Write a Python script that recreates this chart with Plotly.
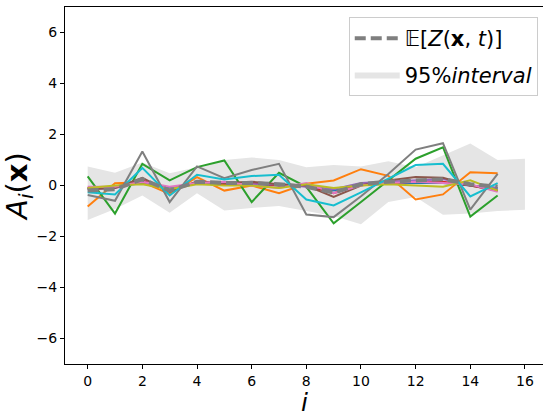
import plotly.graph_objects as go

steps = list(range(16))
band_x = list(range(17))

band_upper = [0.75, 0.5, 0.9, 0.48, 0.72, 1.0, 1.1, 1.0, 0.72, 0.8, 0.75, 0.95, 0.72, 1.2, 1.65, 1.0, 1.05]
band_lower = [-1.35, -0.92, -0.39, -1.07, -0.3, -0.98, -0.88, -0.8, -1.0, -1.2, -1.52, -0.65, -0.45, -1.15, -1.1, -1.0, -0.95]

s_blue = [-0.1, -0.05, 0.1, -0.1, 0.1, 0.05, 0.05, 0.0, 0.0, -0.2, 0.05, 0.1, 0.1, 0.1, 0.0, -0.1]
s_orange = [-0.82, 0.09, 0.13, -0.33, 0.33, -0.2, 0.0, -0.3, 0.07, 0.2, 0.64, 0.38, -0.55, -0.35, 0.52, 0.48]
s_green = [0.36, -1.1, 0.85, 0.2, 0.72, 0.98, -0.65, 0.5, -0.05, -1.48, -0.65, 0.2, 1.05, 1.5, -1.22, -0.39]
s_red = [-0.1, -0.05, 0.2, -0.2, 0.15, 0.05, 0.1, 0.0, 0.0, -0.3, 0.05, 0.1, 0.15, 0.15, 0.0, -0.2]
s_purple = [-0.15, -0.1, 0.15, -0.15, 0.1, 0.1, 0.05, 0.05, -0.05, -0.15, 0.1, 0.15, 0.2, 0.25, 0.0, -0.1]
s_brown = [-0.15, -0.1, 0.3, -0.25, 0.15, 0.1, 0.15, 0.05, 0.0, -0.45, 0.0, 0.2, 0.33, 0.3, 0.0, -0.2]
s_pink = [-0.05, -0.05, 0.15, -0.05, 0.1, 0.15, 0.0, -0.1, 0.1, -0.3, 0.0, 0.1, 0.15, 0.1, 0.05, -0.25]
s_gray = [-0.37, -0.6, 1.33, -0.65, 0.75, 0.29, 0.61, 0.85, -1.14, -1.24, -0.42, 0.45, 1.41, 1.66, -0.95, 0.46]
s_olive = [-0.1, 0.0, 0.05, -0.15, 0.05, 0.0, 0.0, -0.1, 0.05, -0.1, 0.0, 0.05, 0.0, -0.05, 0.2, -0.2]
s_cyan = [-0.26, -0.35, 0.69, -0.39, 0.42, 0.24, 0.37, 0.42, -0.55, -0.78, -0.27, 0.25, 0.8, 0.85, -0.43, 0.09]
mean_vals = [-0.2, -0.15, 0.25, -0.2, 0.15, 0.1, 0.1, 0.05, -0.05, -0.28, 0.05, 0.15, 0.2, 0.25, 0.05, -0.05]

series = [
    (s_blue, "#1f77b4"), (s_orange, "#ff7f0e"), (s_green, "#2ca02c"),
    (s_red, "#d62728"), (s_purple, "#9467bd"), (s_brown, "#8c564b"),
    (s_pink, "#e377c2"), (s_gray, "#7f7f7f"), (s_olive, "#bcbd22"),
    (s_cyan, "#17becf"),
]

y_ticks = [-6, -4, -2, 0, 2, 4, 6]
x_ticks = [0, 2, 4, 6, 8, 10, 12, 14, 16]

fig = go.Figure()
fig.add_trace(go.Scatter(x=band_x, y=band_lower, mode="lines", line=dict(width=0),
                         showlegend=False, hoverinfo="skip"))
fig.add_trace(go.Scatter(x=band_x, y=band_upper, mode="lines", line=dict(width=0),
                         fill="tonexty", fillcolor="#e5e5e5",
                         name="95%<i>interval</i>", legendrank=2, legendgroup="b"))
for vals, col in series:
    fig.add_trace(go.Scatter(x=steps, y=vals, mode="lines",
                             line=dict(color=col, width=2), showlegend=False))
fig.add_trace(go.Scatter(x=steps, y=mean_vals, mode="lines",
                         line=dict(color="#7f7f7f", width=4, dash="11px,5px"),
                         name="𝔼[<i>Z</i>(<b>x</b>, <i>t</i>)]", legendrank=1, legendgroup="a"))

font = "DejaVu Sans"
fig.update_layout(
    width=543, height=412,
    margin=dict(l=65, r=0, t=7, b=48),
    plot_bgcolor="white", paper_bgcolor="white",
    font=dict(family=font, size=14, color="black"),
    xaxis=dict(range=[-0.83, 16.66], tickvals=x_ticks, showgrid=False, zeroline=False,
               showline=True, linecolor="black", linewidth=1, mirror=True,
               ticks="outside", ticklen=4, tickcolor="black", automargin=False),
    yaxis=dict(range=[-7, 7], tickvals=y_ticks, showgrid=False, zeroline=False,
               showline=True, linecolor="black", linewidth=1, automargin=False,
               ticks="outside", ticklen=4, tickcolor="black",
               title=dict(text="<i>A</i><sub><i>i</i></sub>(<b>x</b>)", font=dict(size=29), standoff=6)),
    legend=dict(x=0.989, y=0.972, xanchor="right", yanchor="top",
                bgcolor="rgba(255,255,255,0.8)", bordercolor="#cccccc", borderwidth=1,
                font=dict(size=21), tracegroupgap=6, itemwidth=45),
    annotations=[dict(text="<i>i</i>", xref="paper", yref="paper", x=0.5, y=0,
                      xanchor="center", yanchor="top", yshift=-22, showarrow=False,
                      font=dict(size=25))],
)
fig.write_html("out.html")
